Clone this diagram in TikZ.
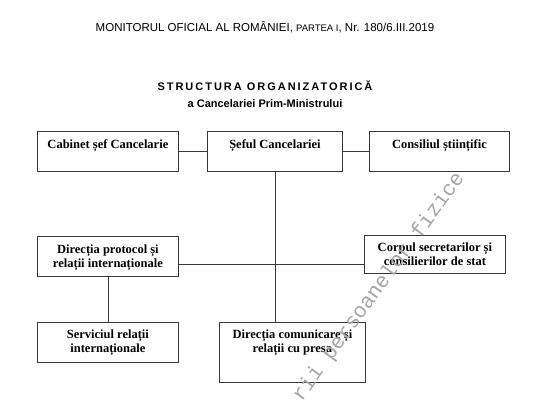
\documentclass[tikz,border=0pt]{standalone}
\usepackage{fontspec}
\setmainfont{Liberation Serif}
\newfontfamily\arialf{Liberation Sans}
\newfontfamily\monof{Liberation Mono}
\begin{document}
\begin{tikzpicture}[x=1pt,y=-1pt,
  box/.style={draw=black!78, line width=0.8pt, anchor=north west, inner xsep=0pt, inner ysep=0pt,
    font=\bfseries\fontsize{12.5}{14.5}\selectfont, text depth=0pt},
  conn/.style={draw=black!78, line width=0.8pt},
  hdr/.style={anchor=base, inner sep=0pt, font=\arialf\fontsize{11.5}{13}\selectfont},
  ttl/.style={anchor=base, inner sep=0pt, font=\arialf\bfseries\fontsize{11}{13}\selectfont},
  wm/.style={inner sep=0pt, text=black!35, font=\monof\fontsize{21}{23}\selectfont, rotate=54}
]
\useasboundingbox (0,0) rectangle (540,400);
\fill[white] (0,0) rectangle (540,400);
\newcommand{\bx}[2]{\begin{tabular}[t]{@{}c@{}}#1\\[0pt]#2\end{tabular}}
\newcommand{\bxone}[1]{\begin{tabular}[t]{@{}c@{}}#1\end{tabular}}

\node[hdr] (hdr) at (265,31) {MONITORUL OFICIAL AL ROMÂNIEI, {\fontsize{9.5}{11}\selectfont PARTEA I}, Nr. 180/6.III.2019};
\node[ttl] (t1) at (265,90) {\addfontfeature{LetterSpace=18}STRUCTURA ORGANIZATORICĂ};
\node[ttl] (t2) at (265,107) {a Cancelariei Prim-Ministrului};

\node[box, minimum width=141, text height=17, text depth=23] (A) at (37,131) {\bxone{Cabinet șef Cancelarie}};
\node[box, minimum width=135, text height=17, text depth=23] (B) at (207,131) {\bxone{Șeful Cancelariei}};
\node[box, minimum width=140, text height=17, text depth=23] (C) at (369,131) {\bxone{Consiliul științific}};
\node[box, minimum width=141, text height=17, text depth=23] (D) at (37,236) {\bx{Direcția protocol și}{relații internaționale}};
\node[box, minimum width=141, text height=16, text depth=22] (E) at (364,235) {\bx{Corpul secretarilor și}{consilierilor de stat}};
\node[box, minimum width=141, text height=16, text depth=24] (F) at (37,322) {\bx{Serviciul relații}{internaționale}};
\node[box, minimum width=146, text height=16, text depth=44] (G) at (219,322) {\bx{Direcția comunicare și}{relații cu presa}};

\draw[conn] (A) -- (B);
\draw[conn] (B) -- (C);
\draw[conn] (B.south) -- (B.south |- G.north);
\draw[conn] ([yshift=-8pt]D.east) -- ([yshift=-8pt]D.east -| E.west);
\draw[conn] (D) -- (F);

\begin{scope}
\clip (0,0) rectangle (540,400);
\node[wm] (w) at (379,287) {rii persoanelor fizice};
\end{scope}
\end{tikzpicture}
\end{document}
